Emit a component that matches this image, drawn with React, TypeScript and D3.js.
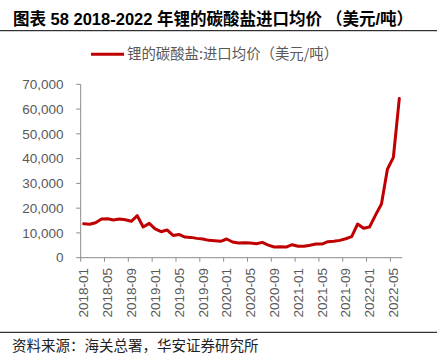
import React from "react";
import * as d3 from "d3";

const months: string[] = [];
for (let y = 2018; y <= 2022; y++) {
  for (let m = 1; m <= 12; m++) {
    if (y === 2022 && m > 6) break;
    months.push(`${y}-${String(m).padStart(2, "0")}`);
  }
}

const prices = [
  13700, 13500, 14100, 15600, 15750, 15200, 15600, 15340, 14700, 16950,
  12400, 13850, 11600, 10500, 11200, 9000, 9400, 8350, 8200, 7800,
  7550, 7000, 6850, 6600, 7550, 6350, 5900, 6050, 5900, 5650,
  6200, 5100, 4300, 4450, 4300, 5250, 4600, 4600, 5000, 5500,
  5500, 6450, 6600, 7000, 7650, 8500, 13600, 11900, 12400, 17200,
  21700, 35700, 40500, 64300,
];

const yTicks = [0, 10000, 20000, 30000, 40000, 50000, 60000, 70000];
const titleHead = "图表 58 2018-2022 年锂的碳酸盐进口均价";
const titleTail = "（美元/吨）";
const legendLabel = "锂的碳酸盐:进口均价（美元/吨）";
const source = "资料来源：海关总署，华安证券研究所";

const W = 445;
const H = 362;
const left = 80.7;
const right = 402.3;
const top = 84.3;
const bottom = 257.7;

export default function App() {
  const x = d3.scaleBand<string>().domain(months).range([left, right]);
  const y = d3.scaleLinear().domain([0, 70000]).range([bottom, top]);
  const line = d3
    .line<number>()
    .x((_, i) => (x(months[i]) as number) + x.bandwidth() / 2)
    .y((d) => y(d))
    .curve(d3.curveLinear);
  const fmt = d3.format(",");
  const axisColor = "#8c8c8c";
  const labelColor = "#595959";
  const tickMonths = months.filter((_, i) => i % 4 === 0);

  return (
    <svg
      width={W}
      height={H}
      style={{ position: "absolute", left: 0, top: 0, background: "#fff" }}
    >
      <text
        x={13}
        y={25}
        fontFamily="'Liberation Sans', 'Noto Sans CJK SC', sans-serif"
        fontWeight="bold"
        fontSize={16.5}
        fill="#000"
      >
        {titleHead}
        <tspan dx={4}>{titleTail}</tspan>
      </text>
      <line x1={0} x2={437} y1={30.7} y2={30.7} stroke="#000" strokeWidth={1} />

      <line x1={91} x2={124} y1={54.3} y2={54.3} stroke="#C00000" strokeWidth={3} />
      <text
        x={127}
        y={59}
        fontFamily="'Noto Sans CJK SC', sans-serif"
        fontSize={14.4}
        fill={labelColor}
      >
        {legendLabel}
      </text>

      {/* Y axis */}
      <line x1={left} x2={left} y1={top} y2={bottom} stroke={axisColor} strokeWidth={1} />
      {yTicks.map((t) => (
        <g key={t}>
          <line x1={left - 4.5} x2={left} y1={y(t)} y2={y(t)} stroke={axisColor} strokeWidth={1} />
          <text
            x={63.5}
            y={y(t)}
            dy="0.35em"
            textAnchor="end"
            fontFamily="'Liberation Sans', Arial, sans-serif"
            fontSize={13.5}
            fill={labelColor}
          >
            {fmt(t)}
          </text>
        </g>
      ))}

      {/* X axis */}
      <line x1={left} x2={right} y1={bottom} y2={bottom} stroke={axisColor} strokeWidth={1} />
      {tickMonths.map((m) => {
        const tx = x(m) as number;
        const cx = tx + x.bandwidth() / 2;
        return (
          <g key={m}>
            <line x1={tx} x2={tx} y1={bottom} y2={bottom + 4} stroke={axisColor} strokeWidth={1} />
            <text
              transform={`translate(${cx},${268}) rotate(-90)`}
              textAnchor="end"
              dy="0.35em"
              fontFamily="'Liberation Sans', Arial, sans-serif"
              fontSize={13.5}
              fill={labelColor}
            >
              {m}
            </text>
          </g>
        );
      })}

      <path
        d={line(prices) || ""}
        fill="none"
        stroke="#C00000"
        strokeWidth={3}
        strokeLinejoin="round"
        strokeLinecap="round"
      />

      <line x1={0} x2={437} y1={332.3} y2={332.3} stroke="#000" strokeWidth={1} />
      <text
        x={12}
        y={351}
        fontFamily="'Noto Sans CJK SC', sans-serif"
        fontSize={14.5}
        fill="#222"
      >
        {source}
      </text>
    </svg>
  );
}
